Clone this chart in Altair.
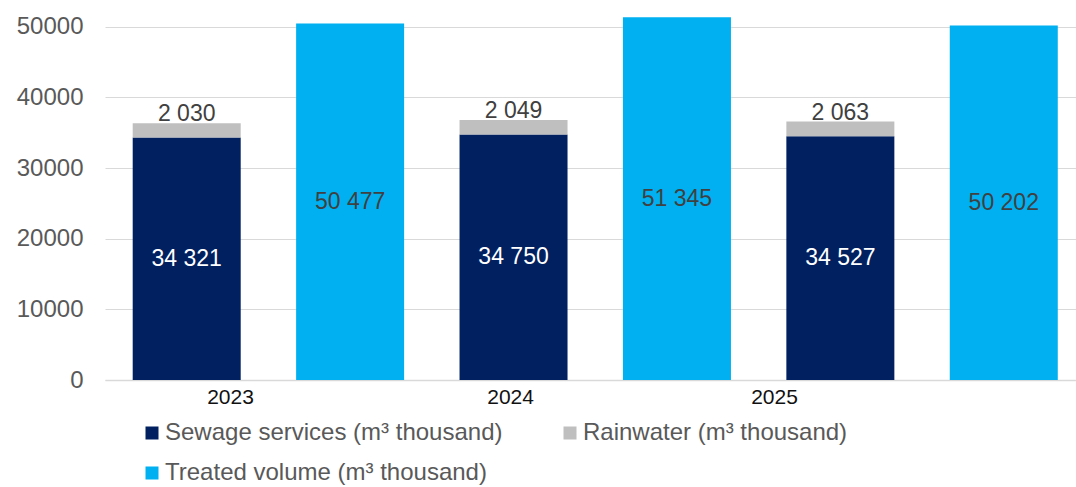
import altair as alt
import pandas as pd

# ---- data ----
years = ["2023", "2024", "2025"]
sewage = [34321, 34750, 34527]
rainwater = [2030, 2049, 2063]
treated = [50477, 51345, 50202]

series_names = [
    "Sewage services (m³ thousand)",
    "Rainwater (m³ thousand)",
    "Treated volume (m³ thousand)",
]
series_colors = ["#002060", "#BFBFBF", "#00B0F0"]

# ---- layout constants ----
SLOT_DOMAIN = [0, 5.942]
YEAR_LABEL_POS = [0.765, 2.479, 4.094]
FONT = "Liberation Sans"


def fmt(v):
    return f"{v:,}".replace(",", " ")


rows = []
for i, yr in enumerate(years):
    stack_pos = 2 * i + 0.5
    treat_pos = 2 * i + 1.5
    rows.append(dict(year=yr, pos=stack_pos, series=series_names[0], value=sewage[i],
                     order=0, base=0, label=fmt(sewage[i])))
    rows.append(dict(year=yr, pos=stack_pos, series=series_names[1], value=rainwater[i],
                     order=1, base=sewage[i], label=fmt(rainwater[i])))
    rows.append(dict(year=yr, pos=treat_pos, series=series_names[2], value=treated[i],
                     order=0, base=0, label=fmt(treated[i])))
df = pd.DataFrame(rows)

label_expr = " : ".join(
    f"datum.value < {YEAR_LABEL_POS[i] + 0.01} ? '{years[i]}'" for i in range(len(years) - 1)
) + f" : '{years[-1]}'"

x_scale = alt.Scale(domain=SLOT_DOMAIN, nice=False, zero=False, padding=0)

x_enc = alt.X(
    "pos:Q",
    scale=x_scale,
    axis=alt.Axis(
        values=YEAR_LABEL_POS,
        labelExpr=label_expr,
        title=None,
        grid=False,
        ticks=False,
        labelPadding=6,
        labelFontSize=21,
        labelColor="#111111",
        labelFont=FONT,
        domainColor="#D9D9D9",
        domainWidth=1.5,
    ),
)

y_scale = alt.Scale(domain=[0, 53800], nice=False)

bars = alt.Chart(df).mark_bar(size=108).encode(
    x=x_enc,
    y=alt.Y(
        "value:Q",
        stack="zero",
        scale=y_scale,
        axis=alt.Axis(
            values=[0, 10000, 20000, 30000, 40000, 50000],
            format="d",
            title=None,
            ticks=False,
            domain=False,
            labelPadding=22,
            labelFontSize=24,
            labelColor="#595959",
            labelFont=FONT,
            gridColor="#D9D9D9",
            gridWidth=1.2,
        ),
    ),
    color=alt.Color(
        "series:N",
        scale=alt.Scale(domain=series_names, range=series_colors),
        legend=alt.Legend(
            title=None,
            orient="none",
            direction="horizontal",
            legendX=35,
            legendY=421,
            columns=2,
            columnPadding=55,
            rowPadding=16,
            symbolType="square",
            symbolSize=169,
            symbolStrokeWidth=0,
            labelFontSize=24,
            labelColor="#595959",
            labelFont=FONT,
            labelLimit=600,
            labelOffset=1,
            padding=0,
        ),
    ),
    order=alt.Order("order:Q", sort="ascending"),
)

mid_labels = alt.Chart(df).transform_filter(
    "datum.order == 0"
).transform_calculate(
    mid="datum.value / 2"
).mark_text(fontSize=23, font=FONT, baseline="middle").encode(
    x=alt.X("pos:Q", scale=x_scale),
    y=alt.Y("mid:Q", scale=y_scale),
    text="label:N",
    color=alt.Color(
        "series:N",
        scale=alt.Scale(domain=[series_names[0], series_names[2]], range=["#FFFFFF", "#404040"]),
        legend=None,
    ),
)

top_labels = alt.Chart(df).transform_filter(
    "datum.order == 1"
).transform_calculate(
    top="datum.base + datum.value"
).mark_text(fontSize=23, font=FONT, baseline="alphabetic", dy=-2, color="#404040").encode(
    x=alt.X("pos:Q", scale=x_scale),
    y=alt.Y("top:Q", scale=y_scale),
    text="label:N",
)

chart = alt.layer(bars, mid_labels, top_labels).resolve_scale(
    color="independent"
).properties(
    width=971,
    height=380,
    autosize=alt.AutoSizeParams(type="none"),
    padding={"left": 105, "top": 0, "right": 0, "bottom": 107},
    background="white",
).configure_view(stroke=None)

chart.save("out.html", embed_options={"renderer": "svg", "actions": False})
